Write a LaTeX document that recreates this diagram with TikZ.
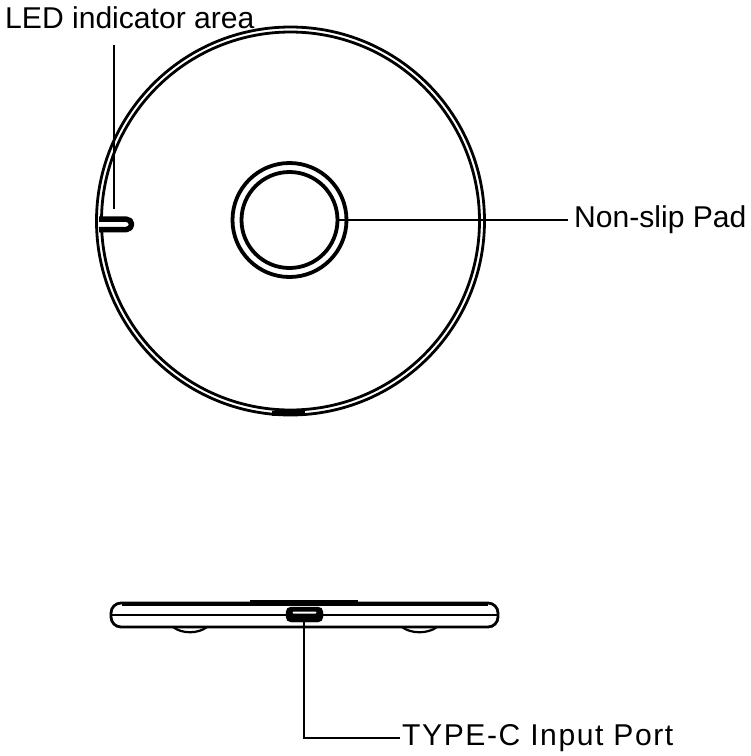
\documentclass[tikz,border=0pt]{standalone}
\usepackage{fontspec}
\setmainfont{Liberation Sans}
\begin{document}
\begin{tikzpicture}[x=1pt, y=-1pt,
    labelStyle/.style={inner sep=0pt, anchor=west, font=\fontsize{30.1}{30}\selectfont},
    leaderStyle/.style={line width=2pt},
    bodyStyle/.style={draw, line width=2.8pt},
    ringStyle/.style={circle, draw, inner sep=0pt, line width=3.8pt},
    footStyle/.style={draw, line width=2.2pt}]
    \useasboundingbox (0, 0) rectangle (751, 756);

    % top view
    \node[ringStyle, bodyStyle, minimum size=388pt] (outer) at (290.5, 221) {};
    \node[ringStyle, bodyStyle, minimum size=378pt] (inner) at (290.5, 221) {};
    \draw[line width=5pt] (272, 413.5) -- (305, 413.5);
    \node[ringStyle, minimum size=114pt] (pad_out) at (289.5, 220) {};
    \node[ringStyle, minimum size=96pt] (pad_in) at (289.5, 220) {};

    % LED slot
    \fill[white] (98, 221.5) rectangle (127, 227);
    \draw[line width=5.5pt, line join=round] (99, 219.2) -- (126.5, 219.2) arc[start angle=-90, end angle=90, radius=5.15] -- (99, 229.5);

    % side view
    \node[draw, line width=2.8pt, rounded corners=10pt, minimum width=387pt, minimum height=24pt, inner sep=0pt] (body) at (304.5, 615) {};
    \draw[line width=4pt] (122, 603.5) -- (488, 603.5);
    \draw[line width=5.5pt] (250, 602.5) -- (358, 602.5);
    \draw[line width=2.8pt] (body.west) -- (body.east);
    \draw[footStyle] (173, 627) .. controls (182, 634) and (198, 634) .. (207, 627);
    \draw[footStyle] (402, 627) .. controls (411, 634) and (428, 634) .. (437, 627);
    \node[draw, fill=black, rounded corners=5pt, minimum width=37pt, minimum height=15pt, inner sep=0pt] (port) at (304.5, 614.5) {};
    \node[fill=white, rounded corners=1pt, minimum width=24pt, minimum height=2pt, inner sep=0pt] (slit) at (304.5, 612.5) {};

    % labels
    \node[labelStyle] (led_label) at (5, 18) {LED indicator area};
    \node[labelStyle] (pad_label) at (574, 220) {Non-slip Pad};
    \node[labelStyle, font=\fontsize{30.1}{30}\selectfont\addfontfeature{LetterSpace=5.2}] (port_label) at (402, 738) {TYPE-C Input Port};

    % leaders
    \coordinate (led_top) at (113.5, 45);
    \coordinate (led_end) at (113.5, 209);
    \coordinate (port_out) at (304, 622);
    \coordinate (port_bend) at (304, 737.5);
    \coordinate (port_end) at (400, 737.5);
    \coordinate (pad_end) at (568, 220);
    \draw[leaderStyle] (led_top) -- (led_end);
    \draw[leaderStyle] (pad_in.east) -- (pad_end);
    \draw[leaderStyle] (port_out) -- (port_bend) -- (port_end);
\end{tikzpicture}
\end{document}
